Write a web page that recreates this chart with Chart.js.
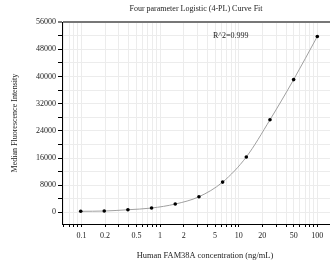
<!DOCTYPE html>
<html>
<head>
<meta charset="utf-8">
<script src="https://cdn.jsdelivr.net/npm/chart.js@4/dist/chart.umd.min.js"></script>
<style>
  html, body { margin: 0; padding: 0; background: #fff; }
  canvas { display: block; }
</style>
</head>
<body>
<canvas id="chart" width="330" height="268"></canvas>
<script>
const concentrations = [0.098, 0.195, 0.39, 0.78, 1.56, 3.125, 6.25, 12.5, 25, 50, 100];
const mfiValues = [300, 380, 760, 1260, 2440, 4590, 8900, 16300, 27250, 39100, 51800];

const xTicks = [0.06, 0.07, 0.08, 0.09, 0.1, 0.2, 0.3, 0.4, 0.5, 0.6, 0.7, 0.8, 0.9,
  1, 2, 3, 4, 5, 6, 7, 8, 9, 10, 20, 30, 40, 50, 60, 70, 80, 90, 100];
const xLabelled = [0.1, 0.2, 0.5, 1, 2, 5, 10, 20, 50, 100];
const yTicks = [0, 4000, 8000, 12000, 16000, 20000, 24000, 28000, 32000, 36000, 40000, 44000, 48000, 52000, 56000];
const yLabelled = [0, 8000, 16000, 24000, 32000, 40000, 48000, 56000];
const fitNote = 'R^2=0.999';
const xTitle = 'Human FAM38A concentration (ng/mL)';

const serif = '"Liberation Serif", "Times New Roman", serif';
const gridColor = '#ececec';

// R^2 note and the x axis title (its centre sits right of the plot centre in the original)
const extraText = {
  id: 'extraText',
  afterDraw(chart) {
    const { ctx, chartArea } = chart;
    ctx.save();
    ctx.font = `8px ${serif}`;
    ctx.fillStyle = '#222';
    ctx.textBaseline = 'middle';
    ctx.fillText(fitNote, chartArea.left + 151, chartArea.top + 14);
    ctx.font = `8.4px ${serif}`;
    ctx.textAlign = 'center';
    ctx.fillText(xTitle, 205, 256);
    ctx.restore();
  },
};

new Chart(document.getElementById('chart'), {
  type: 'scatter',
  data: {
    datasets: [{
      data: concentrations.map((x, i) => ({ x, y: mfiValues[i] })),
      showLine: true,
      cubicInterpolationMode: 'monotone',
      borderColor: '#a0a0a0',
      borderWidth: 1,
      pointBackgroundColor: '#000',
      pointBorderColor: '#000',
      pointRadius: 1.8,
      pointBorderWidth: 0,
    }],
  },
  options: {
    responsive: false,
    animation: false,
    devicePixelRatio: 1,
    layout: { padding: 0, autoPadding: false },
    plugins: {
      legend: { display: false },
      tooltip: { enabled: false },
      title: {
        display: true,
        fullSize: false,
        text: 'Four parameter Logistic (4-PL) Curve Fit',
        color: '#222',
        font: { family: serif, size: 8, weight: 'normal' },
        padding: { top: 4, bottom: 8.6 },
      },
    },
    scales: {
      x: {
        type: 'logarithmic',
        min: 0.0566,
        max: 145,
        afterBuildTicks: scale => { scale.ticks = xTicks.map(value => ({ value })); },
        afterFit: scale => {
          scale.height = 44;
          scale.paddingLeft = 0;
          scale.paddingRight = 0;
        },
        border: { color: '#000', width: 1 },
        grid: { color: gridColor, tickColor: '#000', tickLength: 3, tickWidth: 1 },
        ticks: {
          autoSkip: false,
          maxRotation: 0,
          padding: 4,
          color: '#222',
          font: { family: serif, size: 8 },
          callback: value => (xLabelled.includes(value) ? String(value) : ''),
        },
      },
      y: {
        min: -3440,
        max: 56000,
        afterBuildTicks: scale => { scale.ticks = yTicks.map(value => ({ value })); },
        afterFit: scale => { scale.width = 62; },
        border: { color: '#000', width: 1 },
        grid: {
          color: ctx => (ctx.tick && ctx.tick.value === 56000 ? '#777' : gridColor),
          lineWidth: ctx => (ctx.tick && ctx.tick.value === 56000 ? 2 : 1),
          tickColor: '#000',
          tickLength: 4,
          tickWidth: 1,
        },
        ticks: {
          autoSkip: false,
          padding: 2,
          color: '#222',
          font: { family: serif, size: 8 },
          callback: value => (yLabelled.includes(value) ? String(value) : ''),
        },
        title: {
          display: true,
          text: 'Median Fluorescence Intensity',
          color: '#222',
          font: { family: serif, size: 8 },
          padding: { top: 10 },
        },
      },
    },
  },
  plugins: [extraText],
});
</script>
</body>
</html>
